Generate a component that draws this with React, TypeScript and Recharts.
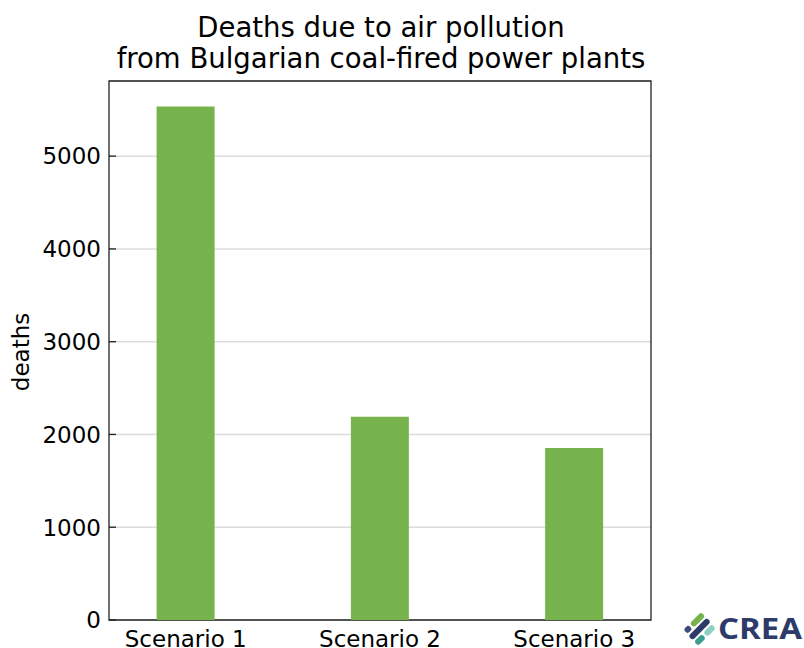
import React from "react"
import { BarChart, Bar, XAxis, YAxis, CartesianGrid, ReferenceArea } from "recharts"

const scenarios = ["Scenario 1", "Scenario 2", "Scenario 3"]
const deaths = [5534, 2191, 1853]
const yTicks = [0, 1000, 2000, 3000, 4000, 5000]

const titleLines = ["Deaths due to air pollution", "from Bulgarian coal-fired power plants"]

const barColor = "#76b34c"
const font = "'DejaVu Sans', sans-serif"
const PLOT_LEFT = 109

const data = scenarios.map((name, i) => ({ x: i, name, deaths: deaths[i] }))

function YTick(props: any) {
  const { y, payload } = props
  return (
    <g>
      <line x1={PLOT_LEFT} x2={PLOT_LEFT + 7} y1={y} y2={y} stroke="#222" strokeWidth={1.3} />
      <text x={PLOT_LEFT - 8} y={y} dy="0.36em" textAnchor="end" fontSize={23} fontFamily={font} fill="#000">
        {payload.value}
      </text>
    </g>
  )
}

function Logo() {
  return (
    <g>
      <g transform="translate(701 629) rotate(-45)">
        <rect x={-4} y={-12} width={16} height={6} rx={3} fill="#76b34c" />
        <rect x={-13} y={-12} width={7} height={6} rx={3} fill="#3f4d7a" />
        <rect x={-14} y={-4} width={26} height={6} rx={3} fill="#2d3b6b" />
        <rect x={-14} y={4} width={11} height={6} rx={3} fill="#3a9d8f" />
        <rect x={-1} y={4} width={12} height={6} rx={3} fill="#8fd0c6" />
      </g>
      <text
        x={718}
        y={639}
        fontSize={28}
        fontWeight="bold"
        fontFamily="'Open Sans', 'DejaVu Sans', sans-serif"
        fill="#2d3b6b"
        textLength={84}
        lengthAdjust="spacingAndGlyphs"
      >
        CREA
      </text>
    </g>
  )
}

export default function App() {
  return (
    <div style={{ position: "absolute", left: 0, top: 0, width: 804, height: 648, background: "#fff" }}>
      <BarChart
        width={804}
        height={648}
        data={data}
        margin={{ top: 81, right: 153, bottom: 0, left: 49 }}
      >
        <CartesianGrid horizontal vertical={false} stroke="#dcdcdc" strokeWidth={1.5} />
        <XAxis
          type="number"
          dataKey="x"
          domain={[-0.395, 2.395]}
          ticks={[0, 1, 2]}
          tickFormatter={(i: number) => scenarios[i]}
          tickLine={false}
          axisLine={false}
          height={28}
          tickMargin={5}
          tick={{ fontSize: 23, fontFamily: font, fill: "#000" }}
          interval={0}
          allowDataOverflow
        />
        <YAxis
          type="number"
          domain={[0, 5810]}
          ticks={yTicks}
          width={60}
          tickLine={false}
          axisLine={false}
          tick={<YTick />}
          interval={0}
          allowDataOverflow
        />
        <Bar dataKey="deaths" fill={barColor} barSize={58} isAnimationActive={false} />
        <ReferenceArea
          x1={-0.395}
          x2={2.395}
          y1={0}
          y2={5810}
          fill="none"
          stroke="#222"
          strokeWidth={1.3}
          fillOpacity={0}
          strokeOpacity={1}
        />
      </BarChart>
      <svg width={804} height={648} style={{ position: "absolute", left: 0, top: 0, pointerEvents: "none" }}>
        {titleLines.map((line, i) => (
          <text key={i} x={381} y={37 + i * 31} textAnchor="middle" fontSize={27.5} fontFamily={font} fill="#000">
            {line}
          </text>
        ))}
        <text
          transform="translate(29 352) rotate(-90)"
          textAnchor="middle"
          fontSize={23}
          fontFamily={font}
          fill="#000"
        >
          deaths
        </text>
        <Logo />
      </svg>
    </div>
  )
}
